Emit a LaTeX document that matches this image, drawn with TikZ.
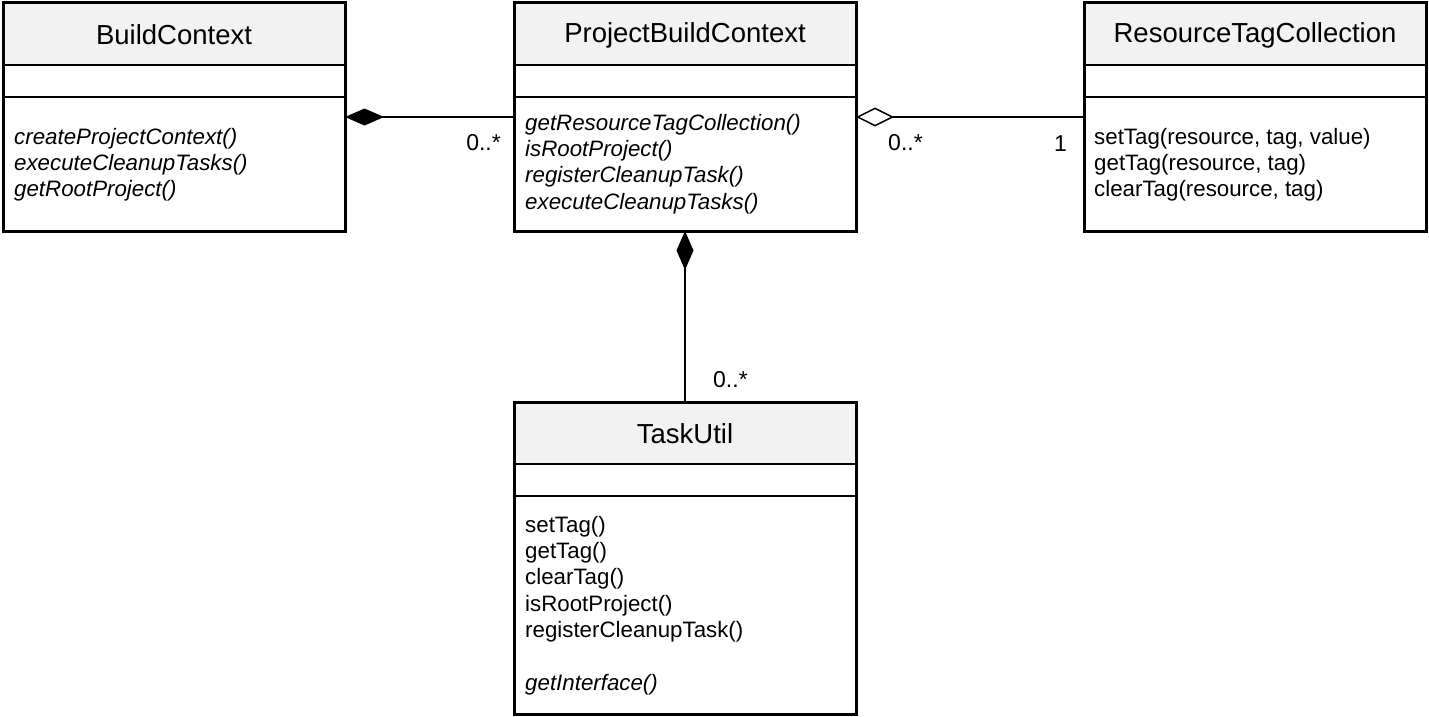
\documentclass[tikz,border=0pt]{standalone}
\usepackage{fontspec}
\setmainfont{Liberation Sans}
\usetikzlibrary{arrows.meta,calc}
\definecolor{headgray}{HTML}{F2F2F2}
\tikzset{
  classbox/.style={rectangle, minimum width=342pt, anchor=north west, inner sep=0pt, outer sep=0pt},
  outline/.style={line width=3pt},
  sepline/.style={line width=1.3pt},
  titletext/.style={font=\fontsize{27.5}{33}\selectfont, inner sep=0pt},
  methods/.style={font=\fontsize{22.3}{26.3}\selectfont, align=left, anchor=base west, inner sep=0pt},
  methodsit/.style={methods, font=\fontsize{22.3}{26.3}\selectfont\itshape},
  mult/.style={font=\fontsize{23}{26}\selectfont, inner sep=0pt},
  assoc/.style={line width=1.5pt},
  comp/.style={{Diamond[length=39pt,width=17pt,fill=black]}-},
  aggr/.style={{Diamond[open,length=38pt,width=19pt,fill=white]}-},
}
\begin{document}
\begin{tikzpicture}[x=1pt,y=-1pt]
\useasboundingbox (0,0) rectangle (1429,717);
% class frames
\node[classbox, minimum height=228pt] (bc) at (3,3) {};
\node[classbox, minimum height=228pt] (pbc) at (514,3) {};
\node[classbox, minimum height=228pt] (rtc) at (1084,3) {};
\node[classbox, minimum height=312pt] (tu) at (514,402) {};
\foreach \c in {bc,pbc,rtc,tu}{
  \fill[headgray] (\c.north west) rectangle ($(\c.north east)+(0,62)$);
  \draw[sepline] ($(\c.north west)+(0,62)$) -- ($(\c.north east)+(0,62)$);
  \draw[sepline] ($(\c.north west)+(0,94)$) -- ($(\c.north east)+(0,94)$);
  \draw[outline] (\c.north west) rectangle (\c.south east);
}
% titles
\node[titletext] (bct) at ($(bc.north)+(0,32)$) {BuildContext};
\node[titletext] (pbct) at ($(pbc.north)+(0,32)$) {ProjectBuildContext};
\node[titletext] (rtct) at ($(rtc.north)+(0,32)$) {ResourceTagCollection};
\node[titletext] (tut) at ($(tu.north)+(0,32)$) {TaskUtil};
% operations (anchor = baseline of the last line)
\node[methodsit] (bcm) at (14,196.6) {createProjectContext()\\executeCleanupTasks()\\getRootProject()};
\node[methodsit] (pbcm) at (525,209) {getResourceTagCollection()\\isRootProject()\\registerCleanupTask()\\executeCleanupTasks()};
\node[methods] (rtcm) at (1094,196.6) {setTag(resource, tag, value)\\getTag(resource, tag)\\clearTag(resource, tag)};
\node[methods] (tum) at (525,690) {setTag()\\getTag()\\clearTag()\\isRootProject()\\registerCleanupTask()\\[26.3pt]\textit{getInterface()}};
% connectors
\draw[assoc, comp] (bc.east) -- (pbc.west);
\draw[assoc, aggr] (pbc.east) -- (rtc.west);
\draw[assoc, comp] (pbc.south) -- (tu.north);
% multiplicities
\node[mult, anchor=base east] (m1) at (501,150) {0..*};
\node[mult, anchor=base west] (m2) at (888,150) {0..*};
\node[mult, anchor=base east] (m3) at (1067,151) {1};
\node[mult, anchor=base west] (m4) at (713,387) {0..*};
\end{tikzpicture}
\end{document}
